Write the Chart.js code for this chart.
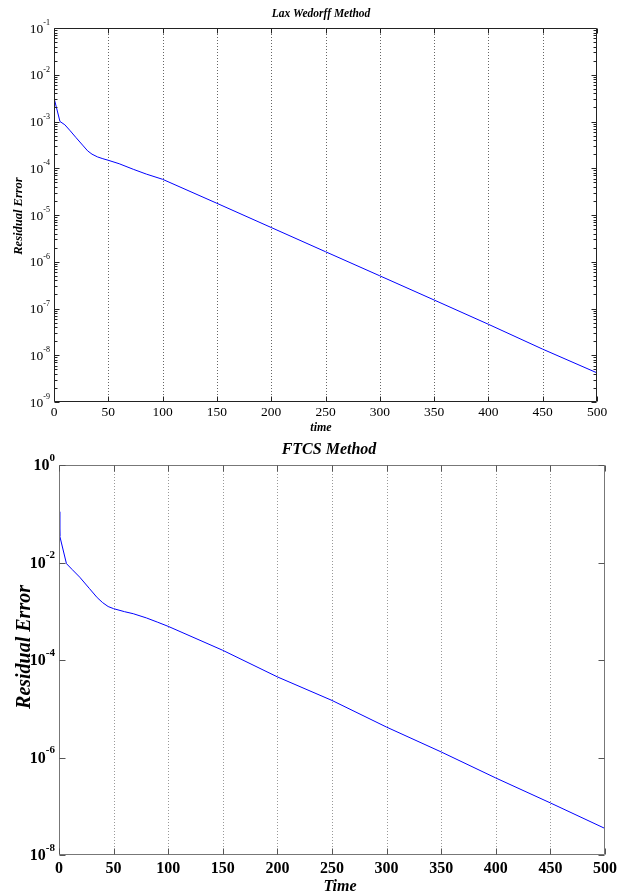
<!DOCTYPE html>
<html>
<head>
<meta charset="utf-8">
<script src="https://cdn.jsdelivr.net/npm/chart.js@4.4.1/dist/chart.umd.min.js"></script>
<style>
  html, body { margin: 0; padding: 0; background: #fff; }
  #wrap { position: relative; width: 627px; height: 896px; overflow: hidden; }
  canvas { position: absolute; left: 0; }
</style>
</head>
<body>
<div id="wrap">
  <canvas id="lax" width="627" height="440" style="top:0"></canvas>
  <canvas id="ftcs" width="627" height="456" style="top:440px"></canvas>
</div>
<script>
// ---------- data ----------
const xTicks = [0, 50, 100, 150, 200, 250, 300, 350, 400, 450, 500];

const laxTitle = "Lax Wedorff Method";
const laxXLabel = "time";
const laxYLabel = "Residual Error";
const laxYExps = [-1, -2, -3, -4, -5, -6, -7, -8, -9];
const laxTime  = [0, 5.5, 10, 15, 20, 27, 31, 35, 40, 45, 50, 60, 73, 85, 100, 150, 200, 250, 300, 350, 400, 450, 500];
const laxError = [3.2e-3, 1.0e-3, 8.5e-4, 6.3e-4, 4.6e-4, 3.0e-4, 2.35e-4, 2.0e-4, 1.75e-4, 1.6e-4, 1.48e-4, 1.25e-4, 9.5e-5, 7.5e-5, 5.8e-5, 1.78e-5, 5.4e-6, 1.64e-6, 5.0e-7, 1.52e-7, 4.6e-8, 1.35e-8, 4.2e-9];

const ftcsTitle = "FTCS Method";
const ftcsXLabel = "Time";
const ftcsYLabel = "Residual Error";
const ftcsYExps = [0, -2, -4, -6, -8];
const ftcsTime  = [0, 0.7, 6.8, 12, 19, 28, 35, 40, 45, 50, 60, 68, 80, 90, 100, 150, 200, 250, 300, 350, 400, 450, 500];
const ftcsError = [0.11, 0.035, 0.0095, 0.0072, 0.005, 0.0029, 0.0019, 0.0015, 0.00125, 0.00113, 0.00098, 0.00089, 0.00073, 0.0006, 0.00049, 1.58e-4, 4.5e-5, 1.48e-5, 4.2e-6, 1.3e-6, 3.8e-7, 1.17e-7, 3.5e-8];

const SERIF = '"Liberation Serif", "Times New Roman", Times, serif';

function toPoints(xs, ys) { return xs.map((x, i) => ({ x: x, y: ys[i] })); }

// MATLAB-like axes drawing plugin
const matlabAxes = {
  id: 'matlabAxes',
  beforeDatasetsDraw(chart) {
    const c = chart.options.plugins.matlabAxes;
    const ctx = chart.ctx, a = chart.chartArea, xs = chart.scales.x;
    ctx.save();
    ctx.strokeStyle = c.gridColor;
    ctx.lineWidth = 1;
    ctx.setLineDash([1, 2]);
    xTicks.forEach(v => {
      if (v === xs.min || v === xs.max) return;
      const px = Math.round(xs.getPixelForValue(v)) + 0.5;
      ctx.beginPath(); ctx.moveTo(px, a.top); ctx.lineTo(px, a.bottom); ctx.stroke();
    });
    ctx.restore();
  },
  afterDraw(chart) {
    const c = chart.options.plugins.matlabAxes;
    const ctx = chart.ctx, a = chart.chartArea, xs = chart.scales.x, ys = chart.scales.y;
    ctx.save();
    ctx.setLineDash([]);
    ctx.lineWidth = 1;
    const L = Math.round(a.left) + 0.5, R = Math.round(a.right) - 0.5;
    const T = Math.round(a.top) + 0.5, B = Math.round(a.bottom) - 0.5;
    // box
    ctx.strokeStyle = c.boxColor;
    ctx.beginPath();
    ctx.moveTo(L, T); ctx.lineTo(R, T); ctx.lineTo(R, B); ctx.lineTo(L, B); ctx.closePath();
    ctx.stroke();
    // x ticks (inward, top and bottom)
    ctx.strokeStyle = c.tickColor;
    xTicks.forEach(v => {
      const px = Math.round(xs.getPixelForValue(v)) + 0.5;
      ctx.beginPath();
      ctx.moveTo(px, B); ctx.lineTo(px, B - c.majorLen);
      ctx.moveTo(px, T); ctx.lineTo(px, T + c.majorLen);
      ctx.stroke();
    });
    // y ticks
    c.yExps.forEach(e => {
      const py = Math.round(ys.getPixelForValue(Math.pow(10, e))) + 0.5;
      ctx.beginPath();
      ctx.moveTo(L, py); ctx.lineTo(L + c.majorLen, py);
      ctx.moveTo(R, py); ctx.lineTo(R - c.majorLen, py);
      ctx.stroke();
      if (c.minor && e < c.yExps[0]) {
        for (let m = 2; m <= 9; m++) {
          const pm = Math.round(ys.getPixelForValue(m * Math.pow(10, e))) + 0.5;
          ctx.beginPath();
          ctx.moveTo(L, pm); ctx.lineTo(L + c.minorLen, pm);
          ctx.moveTo(R, pm); ctx.lineTo(R - c.minorLen, pm);
          ctx.stroke();
        }
      }
    });
    // x tick labels
    ctx.fillStyle = '#000';
    ctx.font = c.xTickFont;
    ctx.textAlign = 'center';
    ctx.textBaseline = 'middle';
    xTicks.forEach(v => {
      ctx.fillText(String(v), xs.getPixelForValue(v), c.xTickY);
    });
    // y tick labels 10^e
    c.yExps.forEach(e => {
      const py = ys.getPixelForValue(Math.pow(10, e));
      ctx.textAlign = 'right';
      ctx.textBaseline = 'middle';
      ctx.font = c.expFont;
      const expStr = String(e);
      const ew = ctx.measureText(expStr).width;
      ctx.fillText(expStr, c.yLabRight, py - c.expRaise);
      ctx.font = c.baseFont;
      ctx.fillText('10', c.yLabRight - ew, py + 1);
    });
    // titles
    ctx.textAlign = 'center';
    ctx.textBaseline = 'middle';
    ctx.font = c.titleFont;
    ctx.fillText(c.title, c.titleX, c.titleY);
    ctx.font = c.xLabFont;
    ctx.fillText(c.xLabel, c.xLabX, c.xLabY);
    ctx.save();
    ctx.translate(c.yLabX, c.yLabY);
    ctx.rotate(-Math.PI / 2);
    ctx.font = c.yLabFont;
    ctx.fillText(c.yLabel, 0, 0);
    ctx.restore();
    ctx.restore();
  }
};

function makeChart(id, xsData, ysData, yMin, yMax, padding, axesCfg, lineWidth) {
  return new Chart(document.getElementById(id), {
    type: 'line',
    data: {
      datasets: [{
        data: toPoints(xsData, ysData),
        borderColor: '#0000ff',
        borderWidth: lineWidth,
        pointRadius: 0,
        fill: false,
        tension: 0
      }]
    },
    options: {
      responsive: false,
      animation: false,
      devicePixelRatio: 1,
      layout: { padding: padding },
      plugins: {
        legend: { display: false },
        tooltip: { enabled: false },
        title: { display: false },
        matlabAxes: axesCfg
      },
      scales: {
        x: { type: 'linear', min: 0, max: 500, display: false },
        y: { type: 'logarithmic', min: yMin, max: yMax, display: false }
      }
    },
    plugins: [matlabAxes]
  });
}

makeChart('lax', laxTime, laxError, 1e-9, 1e-1,
  { left: 54, top: 28, right: 30, bottom: 38 },
  {
    yExps: laxYExps, minor: true, majorLen: 5, minorLen: 3,
    boxColor: '#222', tickColor: '#222', gridColor: '#666',
    xTickFont: '13.5px ' + SERIF, xTickY: 412,
    baseFont: '13.5px ' + SERIF, expFont: '8px ' + SERIF, expRaise: 5, yLabRight: 50,
    title: laxTitle, titleFont: 'italic bold 11.5px ' + SERIF, titleX: 321, titleY: 14,
    xLabel: laxXLabel, xLabFont: 'italic bold 12px ' + SERIF, xLabX: 321, xLabY: 428,
    yLabel: laxYLabel, yLabFont: 'italic bold 12.5px ' + SERIF, yLabX: 19, yLabY: 216
  }, 1);

makeChart('ftcs', ftcsTime, ftcsError, 1e-8, 1,
  { left: 59, top: 25, right: 22, bottom: 41 },
  {
    yExps: ftcsYExps, minor: false, majorLen: 6, minorLen: 3,
    boxColor: '#777', tickColor: '#555', gridColor: '#999',
    xTickFont: 'bold 16px ' + SERIF, xTickY: 429,
    baseFont: 'bold 16px ' + SERIF, expFont: 'bold 11px ' + SERIF, expRaise: 7, yLabRight: 55,
    title: ftcsTitle, titleFont: 'italic bold 16px ' + SERIF, titleX: 329, titleY: 10,
    xLabel: ftcsXLabel, xLabFont: 'italic bold 16px ' + SERIF, xLabX: 340, xLabY: 447,
    yLabel: ftcsYLabel, yLabFont: 'italic bold 20px ' + SERIF, yLabX: 25, yLabY: 207
  }, 1);
</script>
</body>
</html>
